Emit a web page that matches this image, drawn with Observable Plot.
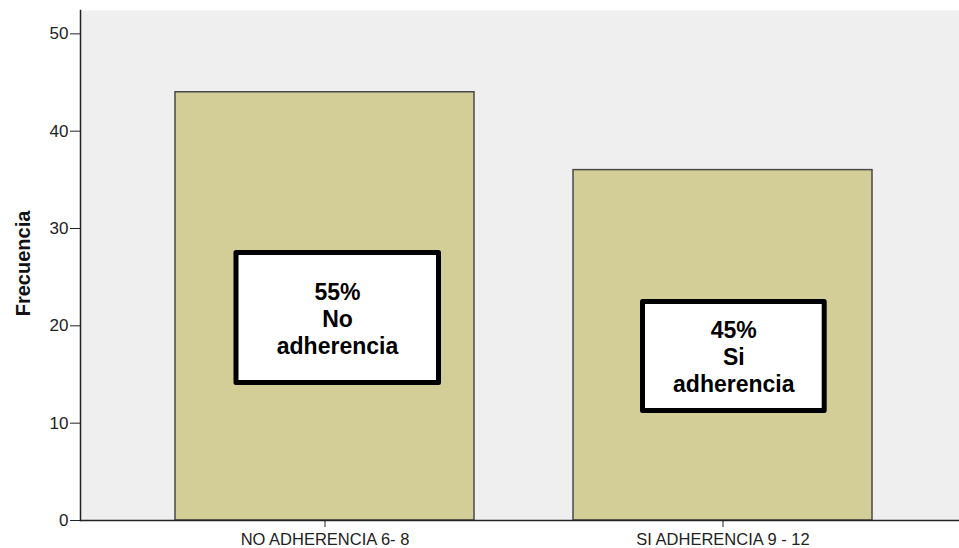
<!DOCTYPE html>
<html>
<head>
<meta charset="utf-8">
<script src="https://cdn.jsdelivr.net/npm/d3@7"></script>
<script src="https://cdn.jsdelivr.net/npm/@observablehq/plot@0.6"></script>
<style>
  body { margin: 0; background: #ffffff; }
  #chart svg { display: block; }
  #chart svg g[aria-label*="x-axis"] text { font-size: 16.5px; }
  #chart svg g[aria-label*="y-axis"] text { font-size: 17px; }
</style>
</head>
<body>
<div id="chart"></div>
<script>
const categories = ["NO ADHERENCIA 6- 8", "SI ADHERENCIA 9 - 12"];
const frequencies = [44, 36];
const percents = ["55%", "45%"];
const groupNames = ["No\nadherencia", "Si\nadherencia"];
const yTicks = [0, 10, 20, 30, 40, 50];
const yLabel = "Frecuencia";

const bars = categories.map((c, i) => ({category: c, freq: frequencies[i]}));
const notes = categories.map((c, i) => ({category: c, text: percents[i] + "\n" + groupNames[i]}));

const font = "'Liberation Sans', Arial, sans-serif";

const chart = Plot.plot({
  width: 959,
  height: 548,
  marginTop: 10,
  marginBottom: 28,
  marginLeft: 80,
  marginRight: 0,
  style: {fontFamily: font, fontSize: "16px", background: "#ffffff"},
  x: {domain: categories, paddingInner: 0.25, paddingOuter: 0.227, align: 0.52, label: null},
  y: {domain: [0, 52.4], label: null},
  marks: [
    Plot.frame({fill: "#efefef", stroke: null}),
    Plot.barY(bars, {x: "category", y: "freq", fill: "#d3ce97", stroke: "#4a4a4a", strokeWidth: 1.5}),
    Plot.frame({anchor: "left", stroke: "#222", strokeWidth: 1.5}),
    Plot.frame({anchor: "bottom", stroke: "#222", strokeWidth: 1.5}),
    Plot.axisY({ticks: yTicks, tickSize: 10, tickPadding: 2, color: "#222", label: null}),
    Plot.axisX({tickSize: 7, tickPadding: 6, color: "#222", label: null}),
    Plot.text([yLabel], {frameAnchor: "left", textAnchor: "middle", rotate: -90, dx: -57, dy: -2, fontWeight: "bold", fontSize: 20, fill: "#111"}),
    // annotation boxes
    Plot.rect([notes[0]], {x: "category", y1: 14.13, y2: 27.48, insetLeft: 61, insetRight: 35.5, fill: "white", stroke: "black", strokeWidth: 5, strokeLinejoin: "round"}),
    Plot.rect([notes[1]], {x: "category", y1: 11.25, y2: 22.45, insetLeft: 69.5, insetRight: 47.8, fill: "white", stroke: "black", strokeWidth: 5, strokeLinejoin: "round"}),
    Plot.text([notes[0]], {x: "category", y: 20.8, dx: 12.5, text: "text", fontSize: 23, fontWeight: "bold", lineHeight: 1.18, lineAnchor: "middle", fill: "#000"}),
    Plot.text([notes[1]], {x: "category", y: 16.85, dx: 10.8, text: "text", fontSize: 23, fontWeight: "bold", lineHeight: 1.18, lineAnchor: "middle", fill: "#000"})
  ]
});
document.getElementById("chart").appendChild(chart);
</script>
</body>
</html>
